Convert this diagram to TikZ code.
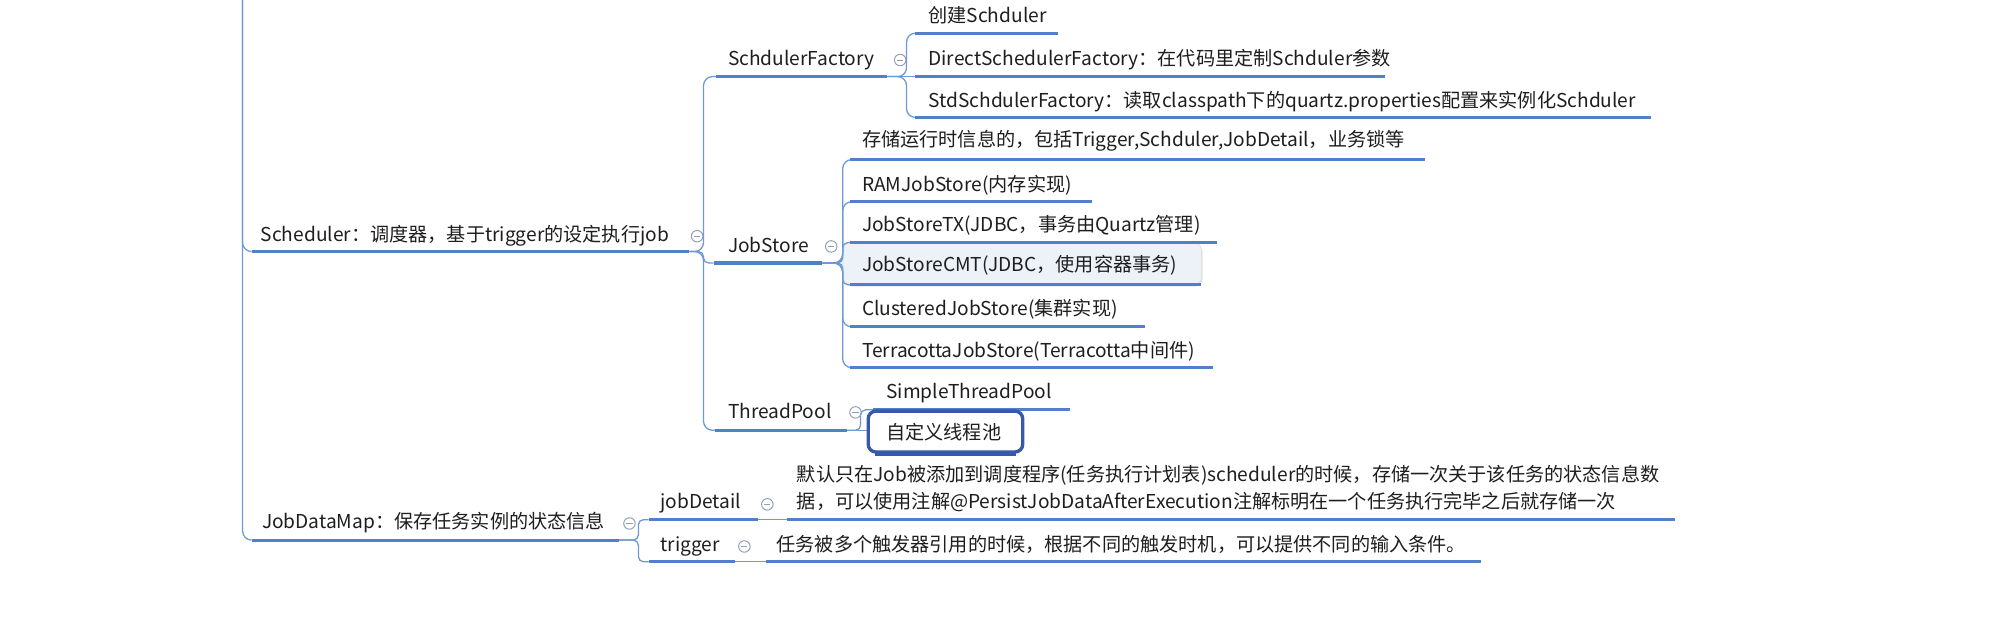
\documentclass[tikz,border=0pt]{standalone}
\usepackage{fontspec}
\setmainfont{Noto Sans CJK SC}
\usetikzlibrary{shadows}
\definecolor{ulc}{HTML}{4F80C9}
\definecolor{cnc}{HTML}{6F98D6}
\definecolor{selc}{HTML}{3659AA}
\definecolor{icc}{HTML}{8E9DB8}
\definecolor{txc}{HTML}{1E1E1E}
\definecolor{hlc}{HTML}{EDF1F8}
\tikzset{
  txt/.style={anchor=base west, inner sep=0pt, font=\fontsize{15}{18}\selectfont, text=txc},
  ul/.style={draw=ulc, line width=2.4pt},
  conn/.style={draw=cnc, line width=1pt, rounded corners=7pt},
  icon/.style={circle, draw=icc, line width=0.75pt, minimum size=9pt, inner sep=0pt,
    path picture={\draw[icc, line width=0.75pt]
      ([xshift=-2.4pt]path picture bounding box.center) -- ([xshift=2.4pt]path picture bounding box.center);}},
}
\begin{document}
\begin{tikzpicture}[x=1pt,y=-1pt]
\clip (0,0) rectangle (1568,487);
\fill[white] (0,0) rectangle (1568,487);

% ---------- coordinates of underline ends ----------
\coordinate (root) at (190,-40);
\coordinate (schL) at (197,197);  \coordinate (schR) at (540,197);
\coordinate (sfL) at (561,60);    \coordinate (sfR) at (695,60);
\coordinate (c1L) at (717,26);    \coordinate (c1R) at (829,26);
\coordinate (c2L) at (717,60);    \coordinate (c2R) at (1085,60);
\coordinate (c3L) at (717,92);    \coordinate (c3R) at (1293,92);
\coordinate (jsL) at (559,206);   \coordinate (jsR) at (644,206);
\coordinate (a1L) at (666,125);   \coordinate (a1R) at (1116,125);
\coordinate (a2L) at (666,158);   \coordinate (a2R) at (855,158);
\coordinate (a3L) at (666,190);   \coordinate (a3R) at (953,190);
\coordinate (a4L) at (666,223);   \coordinate (a4R) at (941,223);
\coordinate (a5L) at (666,256);   \coordinate (a5R) at (897,256);
\coordinate (a6L) at (666,288);   \coordinate (a6R) at (950,288);
\coordinate (tpL) at (560,337);   \coordinate (tpR) at (663,337);
\coordinate (t1L) at (684,321);   \coordinate (t1R) at (838,321);
\coordinate (t2L) at (680,337);
\coordinate (jdmL) at (197,423);  \coordinate (jdmR) at (485,423);
\coordinate (jdL) at (508,407);   \coordinate (jdR) at (594,407);
\coordinate (jnL) at (616,407);   \coordinate (jnR) at (1312,407);
\coordinate (trL) at (508,440);   \coordinate (trR) at (576,440);
\coordinate (tnL) at (600,440);   \coordinate (tnR) at (1160,440);

% ---------- highlight of JobStoreCMT ----------
\path[fill=hlc, draw=black!12, line width=0.5pt, rounded corners=6pt,
  drop shadow={opacity=0.22, shadow xshift=1pt, shadow yshift=-1.5pt}]
  (660,190) rectangle (941,223);

% ---------- connectors ----------
\draw[conn] (root) -- (190,197) -- (schL);
\draw[conn] (root) -- (190,423) -- (jdmL);
\draw[conn] (schR) -- (551,197) -- (551,60) -- (sfL);
\draw[conn, rounded corners=4pt] (schR) -- (551,197) -- (551,206) -- (jsL);
\draw[conn] (schR) -- (551,197) -- (551,337) -- (tpL);
\draw[conn] (sfR) -- (710,60) -- (710,26) -- (c1L);
\draw[conn] (sfR) -- (c2L);
\draw[conn] (sfR) -- (710,60) -- (710,92) -- (c3L);
\draw[conn] (jsR) -- (660,206) -- (660,125) -- (a1L);
\draw[conn] (jsR) -- (660,206) -- (660,158) -- (a2L);
\draw[conn, rounded corners=4pt] (jsR) -- (660,206) -- (660,190) -- (a3L);
\draw[conn, rounded corners=4pt] (jsR) -- (660,206) -- (660,223) -- (a4L);
\draw[conn] (jsR) -- (660,206) -- (660,256) -- (a5L);
\draw[conn] (jsR) -- (660,206) -- (660,288) -- (a6L);
\draw[conn, rounded corners=4pt] (tpR) -- (674,337) -- (674,321) -- (t1L);
\draw[conn] (tpR) -- (t2L);
\draw[conn, rounded corners=4pt] (jdmR) -- (500,423) -- (500,407) -- (jdL);
\draw[conn, rounded corners=4pt] (jdmR) -- (500,423) -- (500,440) -- (trL);
\draw[conn] (jdR) -- (jnL);
\draw[conn] (trR) -- (tnL);

% ---------- underlines ----------
\foreach \n in {sch,sf,c1,c2,c3,js,a1,a2,a3,a4,a5,a6,tp,t1,jdm,jd,jn,tr,tn}
  \draw[ul] (\n L) -- (\n R);

% ---------- selected box ----------
\path[fill=white, draw=selc, line width=2.6pt, rounded corners=6pt,
  drop shadow={opacity=0.22, shadow xshift=0.8pt, shadow yshift=-1.4pt}]
  (680,322) rectangle (801,354);
\draw[selc, line width=1.8pt] (685,356) -- (796,356);

% ---------- texts ----------
\node[txt] (sch) at (204,189) {Scheduler：调度器，基于trigger的设定执行job};
\node[txt] (sf) at (570,51) {SchdulerFactory};
\node[txt] (c1) at (727,18) {创建Schduler};
\node[txt] (c2) at (727,51) {DirectSchedulerFactory：在代码里定制Schduler参数};
\node[txt] (c3) at (727,84) {StdSchdulerFactory：读取classpath下的quartz.properties配置来实例化Schduler};
\node[txt] (js) at (570,198) {JobStore};
\node[txt] (a1) at (675,115) {存储运行时信息的，包括Trigger,Schduler,JobDetail，业务锁等};
\node[txt] (a2) at (675,150) {RAMJobStore(内存实现)};
\node[txt] (a3) at (675,181) {JobStoreTX(JDBC，事务由Quartz管理)};
\node[txt] (a4) at (675,213) {JobStoreCMT(JDBC，使用容器事务)};
\node[txt] (a5) at (675,247) {ClusteredJobStore(集群实现)};
\node[txt] (a6) at (675,280) {TerracottaJobStore(Terracotta中间件)};
\node[txt] (tp) at (570,328) {ThreadPool};
\node[txt] (t1) at (694,312) {SimpleThreadPool};
\node[txt] (t2) at (694,344) {自定义线程池};
\node[txt] (jdm) at (205,414) {JobDataMap：保存任务实例的状态信息};
\node[txt] (jd) at (517,398) {jobDetail};
\node[txt] (jn1) at (624,377) {默认只在Job被添加到调度程序(任务执行计划表)scheduler的时候，存储一次关于该任务的状态信息数};
\node[txt] (jn2) at (624,398) {据，可以使用注解@PersistJobDataAfterExecution注解标明在一个任务执行完毕之后就存储一次};
\node[txt] (tr) at (517,432) {trigger};
\node[txt] (tn) at (608,432) {任务被多个触发器引用的时候，根据不同的触发时机，可以提供不同的输入条件。};

% ---------- collapse icons ----------
\node[icon] (isch) at (546,185) {};
\node[icon] (isf) at (705,47) {};
\node[icon] (ijs) at (651,193) {};
\node[icon] (itp) at (670,323) {};
\node[icon] (ijdm) at (493,410) {};
\node[icon] (ijd) at (601,395) {};
\node[icon] (itr) at (583,428) {};
\end{tikzpicture}
\end{document}
